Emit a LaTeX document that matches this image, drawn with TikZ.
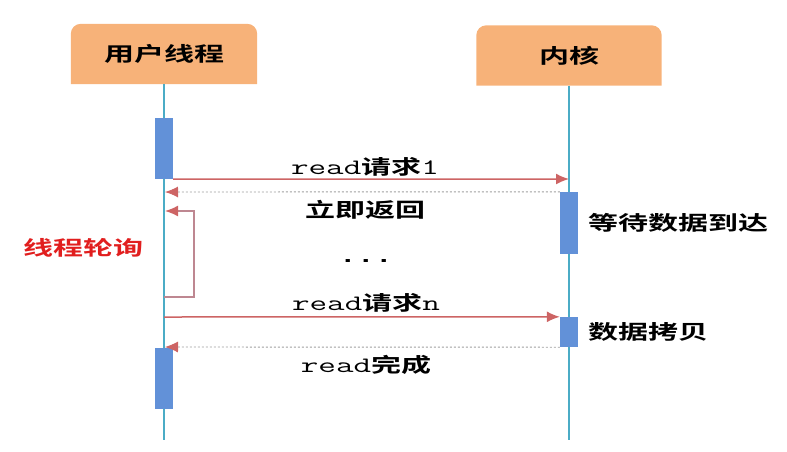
\documentclass[tikz,border=0pt]{standalone}
\usepackage{fontspec}
\newfontfamily\cjkf[FakeStretch=1.5]{Noto Sans CJK SC Bold}
\newfontfamily\monof[FakeStretch=1.55]{Latin Modern Mono}
\newfontfamily\dotf[FakeStretch=1.5]{Liberation Mono Bold}
\usetikzlibrary{arrows.meta, positioning, backgrounds}

\definecolor{headcol}{RGB}{247,178,121}
\definecolor{lifecol}{RGB}{75,172,198}
\definecolor{barcol}{RGB}{98,145,216}
\definecolor{arrcol}{RGB}{205,100,100}
\definecolor{loopcol}{RGB}{190,135,145}
\definecolor{pollred}{RGB}{225,30,30}

\newcommand{\rd}{{\fontsize{22}{24}\selectfont\monof read}}

\tikzset{
    headbox/.style={minimum width=186pt, minimum height=60pt, inner sep=0pt,
        font=\fontsize{20}{24}\selectfont\cjkf},
    actbar/.style={fill=barcol, minimum width=18pt, inner sep=0pt},
    lifeline/.style={lifecol, line width=1.5pt},
    req/.style={-{Latex[length=13pt, width=11pt]}, arrcol, line width=1.5pt},
    ret/.style={-{Latex[length=13pt, width=11pt, color=arrcol]}, draw=gray!75,
        line width=0.9pt, dash pattern=on 2pt off 2pt},
    msg/.style={inner sep=0pt, font=\fontsize{20}{24}\selectfont}
}

\begin{document}
\begin{tikzpicture}[x=1pt, y=1pt]
    \useasboundingbox (0,0) rectangle (787,-451);

    % 1. Hai hộp tiêu đề
    \node[headbox] (user) at (164,-54) {用户线程};
    \node[headbox, minimum width=185pt] (kern) at (569,-55.5) {内核};
    \begin{scope}[on background layer]
        \foreach \n in {user, kern}
            \fill[headcol] (\n.south west) -- ([yshift=-10pt]\n.north west)
                arc[start angle=180, end angle=90, radius=10pt]
                -- ([xshift=-10pt]\n.north east)
                arc[start angle=90, end angle=0, radius=10pt]
                -- (\n.south east) -- cycle;
    \end{scope}

    % 2. Đường sống
    \coordinate (uend) at (164,-440);
    \coordinate (kend) at (569,-440);
    \draw[lifeline] (user.south) -- (uend);
    \draw[lifeline] (kern.south) -- (kend);

    % 3. Các thanh kích hoạt
    \node[actbar, minimum height=61pt] (ub1) at (164,-148.5) {};
    \node[actbar, minimum height=61pt] (ub2) at (164,-378.5) {};
    \node[actbar, minimum height=62pt] (kb1) at (569,-223) {};
    \node[actbar, minimum height=30pt] (kb2) at (569,-332) {};

    % 4. Các điểm đầu mút
    \coordinate (k1) at (569,-179);
    \coordinate (u1) at (165,-192);
    \coordinate (p0) at (164,-297);
    \coordinate (p1) at (165,-211);
    \coordinate (un) at (164,-317);
    \coordinate (u2) at (165,-347);

    % 5. Các thông điệp
    \draw[req] (ub1.south east) -- (k1);
    \draw[ret] (kb1.north west) -- (u1);
    \draw[-{Latex[length=13pt, width=11pt, color=arrcol]}, loopcol, line width=1.5pt]
        (p0) -| (194,-211) -- (p1);
    \draw[req] (un) -- (kb2.north west);
    \draw[ret] (kb2.south west) -- (u2);

    % 6. Nhãn
    \node[msg] (m1) at (365,-167) {\rd\cjkf 请求{\fontsize{22}{24}\selectfont\monof 1}};
    \node[msg] (m2) at (365,-210) {\cjkf 立即返回};
    \node[msg] (dots) at (366,-261) {\dotf ...};
    \node[msg, text=pollred] (poll) at (83.5,-248) {\cjkf 线程轮询};
    \node[msg] (mn) at (366,-303) {\rd\cjkf 请求{\fontsize{22}{24}\selectfont\monof n}};
    \node[msg] (done) at (366,-365) {\rd\cjkf 完成};
    \node[msg, right=10pt of kb1] (wait) {\cjkf 等待数据到达};
    \node[msg, right=10pt of kb2] (copy) {\cjkf 数据拷贝};
\end{tikzpicture}
\end{document}
